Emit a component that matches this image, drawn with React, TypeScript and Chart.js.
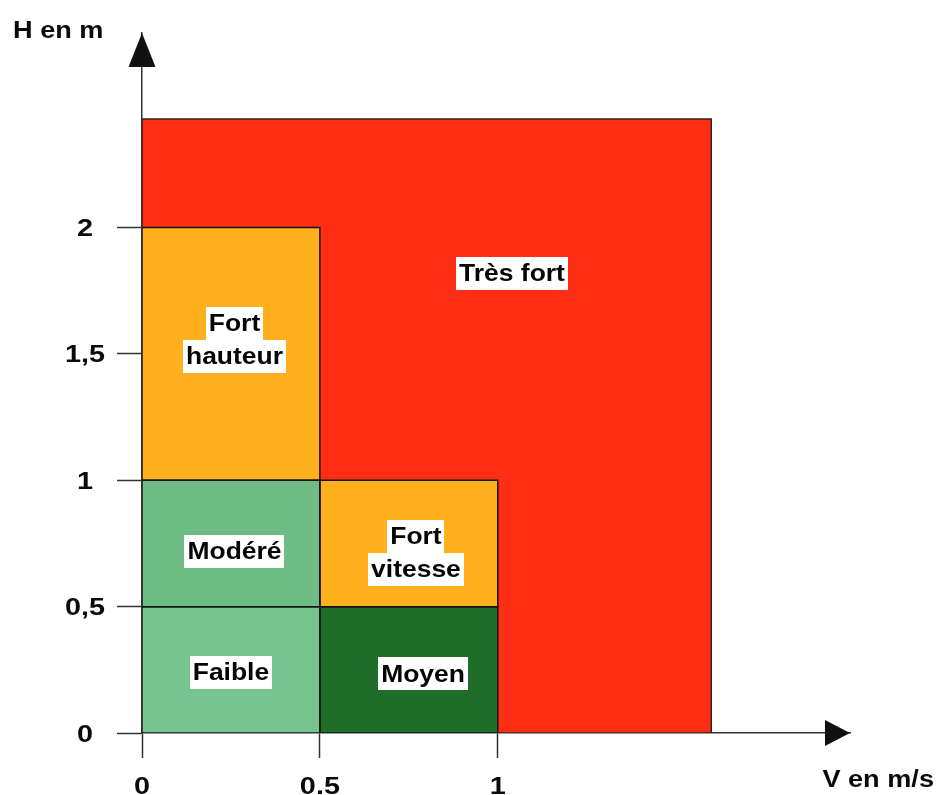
import React, { useEffect, useRef } from "react";
import { Chart, registerables } from "chart.js";

Chart.register(...registerables);

// ---- data ----
const xTicks = [0, 0.5, 1];
const xTickLabels = ["0", "0.5", "1"];
const yTicks = [0, 0.5, 1, 1.5, 2];
const yTickLabels = ["0", "0,5", "1", "1,5", "2"];

const xTitle = "V en m/s";
const yTitle = "H en m";

// zones drawn bottom (last) to top (first)
const zoneNames = ["Faible", "Modéré", "Moyen", "Fort vitesse", "Fort hauteur", "Très fort"];
const zoneV0 = [0, 0, 0.5, 0.5, 0, 0];
const zoneV1 = [0.5, 0.5, 1, 1, 0.5, 1.6];
const zoneH0 = [0, 0.5, 0, 0.5, 1, 0];
const zoneH1 = [0.5, 1, 0.5, 1, 2, 2.43];
const zoneLabelLines = [["Faible"], ["Modéré"], ["Moyen"], ["Fort", "vitesse"], ["Fort", "hauteur"], ["Très fort"]];
// label anchor (in axis units)
const zoneLabelV = [0.25, 0.26, 0.79, 0.77, 0.26, 1.04];
const zoneLabelH = [0.24, 0.72, 0.235, 0.713, 1.556, 1.82];

// ---- styles ----
const zoneColors = ["#78c48f", "#6cbc84", "#1f6d28", "#ffb01c", "#ffb01c", "#ff2d14"];
const FONT = '"Liberation Sans", Arial, sans-serif';

function stretchedText(ctx: CanvasRenderingContext2D, text: string, x: number, y: number, sx: number, align: "left" | "center" | "right") {
  const w = ctx.measureText(text).width * sx;
  let left = x;
  if (align === "center") left = x - w / 2;
  else if (align === "right") left = x - w;
  ctx.save();
  ctx.translate(left, y);
  ctx.scale(sx, 1);
  ctx.textAlign = "left";
  ctx.fillText(text, 0, 0);
  ctx.restore();
  return w;
}

export default function App() {
  const canvasRef = useRef<HTMLCanvasElement | null>(null);

  useEffect(() => {
    const canvas = canvasRef.current;
    if (!canvas) return;

    const fillSets: any[] = [];
    const outlineSets: any[] = [];
    zoneNames.forEach((name, i) => {
      const isBase = i === zoneNames.length - 1;
      fillSets.push({
        label: name,
        data: [
          { x: zoneV0[i], y: zoneH1[i] },
          { x: zoneV1[i], y: zoneH1[i] },
        ],
        fill: { value: zoneH0[i] },
        backgroundColor: zoneColors[i],
        borderWidth: 0,
        borderColor: "rgba(0,0,0,0)",
        pointRadius: 0,
        tension: 0,
        order: isBase ? 10 : 5,
      });
      outlineSets.push({
        label: name + " contour",
        data: [
          { x: zoneV0[i], y: zoneH0[i] },
          { x: zoneV0[i], y: zoneH1[i] },
          { x: zoneV1[i], y: zoneH1[i] },
          { x: zoneV1[i], y: zoneH0[i] },
          { x: zoneV0[i], y: zoneH0[i] },
        ],
        fill: false,
        borderColor: isBase ? "#3a2018" : "#151515",
        borderWidth: 1.5,
        pointRadius: 0,
        tension: 0,
        order: isBase ? 8 : 1,
      });
    });

    const overlay = {
      id: "overlay",
      afterDraw(chart: any) {
        const { ctx, chartArea, scales } = chart;
        const xs = scales.x;
        const ys = scales.y;
        ctx.save();
        // arrows
        ctx.fillStyle = "#111";
        ctx.beginPath();
        ctx.moveTo(chartArea.left, chartArea.top);
        ctx.lineTo(chartArea.left - 13.5, chartArea.top + 34);
        ctx.lineTo(chartArea.left + 13.5, chartArea.top + 34);
        ctx.closePath();
        ctx.fill();
        ctx.beginPath();
        ctx.moveTo(chartArea.right, chartArea.bottom);
        ctx.lineTo(chartArea.right - 25, chartArea.bottom - 13);
        ctx.lineTo(chartArea.right - 25, chartArea.bottom + 13);
        ctx.closePath();
        ctx.fill();

        // tick labels (positions from the library's scales)
        ctx.fillStyle = "#0a0a0a";
        ctx.font = `bold 24px ${FONT}`;
        ctx.textBaseline = "alphabetic";
        xs.ticks.forEach((t: any) => {
          const k = xTicks.indexOf(t.value);
          if (k < 0) return;
          stretchedText(ctx, xTickLabels[k], xs.getPixelForValue(t.value), 794, 1.2, "center");
        });
        ys.ticks.forEach((t: any) => {
          const k = yTicks.indexOf(t.value);
          if (k < 0) return;
          stretchedText(ctx, yTickLabels[k], 85, ys.getPixelForValue(t.value) + 8.5, 1.2, "center");
        });

        // axis titles
        ctx.font = `bold 23px ${FONT}`;
        stretchedText(ctx, yTitle, 13, 38, 1.18, "left");
        stretchedText(ctx, xTitle, 934, 787, 1.18, "right");

        // zone labels
        ctx.font = `bold 23px ${FONT}`;
        ctx.textBaseline = "alphabetic";
        const lineH = 33;
        zoneNames.forEach((_, i) => {
          const lines = zoneLabelLines[i];
          const cx = xs.getPixelForValue(zoneLabelV[i]);
          const cy = ys.getPixelForValue(zoneLabelH[i]);
          const startY = cy - (lines.length * lineH) / 2;
          lines.forEach((ln, j) => {
            const w = ctx.measureText(ln).width * 1.15 + 6;
            const top = startY + j * lineH;
            ctx.fillStyle = "#ffffff";
            ctx.fillRect(Math.round(cx - w / 2), Math.round(top), Math.round(w), lineH);
            ctx.fillStyle = "#050505";
            stretchedText(ctx, ln, cx, top + lineH / 2 + 8, 1.15, "center");
          });
        });
        ctx.restore();
      },
    };

    const chart = new Chart(canvas, {
      type: "line",
      data: { datasets: [...outlineSets, ...fillSets] },
      options: {
        animation: false,
        responsive: false,
        events: [],
        layout: { padding: { top: 33, right: 87, left: 0, bottom: 0 } },
        plugins: { legend: { display: false }, tooltip: { enabled: false } },
        scales: {
          x: {
            type: "linear",
            min: 0,
            max: 1.99,
            afterBuildTicks: (scale: any) => {
              scale.ticks = xTicks.map((v) => ({ value: v }));
            },
            afterFit: (scale: any) => {
              scale.height = 62;
            },
            ticks: { display: false, autoSkip: false },
            grid: {
              drawOnChartArea: false,
              drawTicks: true,
              tickLength: 25,
              tickColor: "#333",
              tickWidth: 1.5,
            },
            border: { display: true, color: "#333", width: 1.5 },
          },
          y: {
            type: "linear",
            min: 0,
            max: 2.77,
            afterBuildTicks: (scale: any) => {
              scale.ticks = yTicks.map((v) => ({ value: v }));
            },
            afterFit: (scale: any) => {
              scale.width = 142;
            },
            ticks: { display: false, autoSkip: false },
            grid: {
              drawOnChartArea: false,
              drawTicks: true,
              tickLength: 25,
              tickColor: "#333",
              tickWidth: 1.5,
            },
            border: { display: true, color: "#333", width: 1.5 },
          },
        },
      },
      plugins: [overlay],
    } as any);

    return () => {
      chart.destroy();
    };
  }, []);

  return (
    <div style={{ position: "absolute", left: 0, top: 0, width: 937, height: 795, background: "#fff" }}>
      <canvas ref={canvasRef} width={937} height={795} style={{ display: "block", width: 937, height: 795 }} />
    </div>
  );
}
